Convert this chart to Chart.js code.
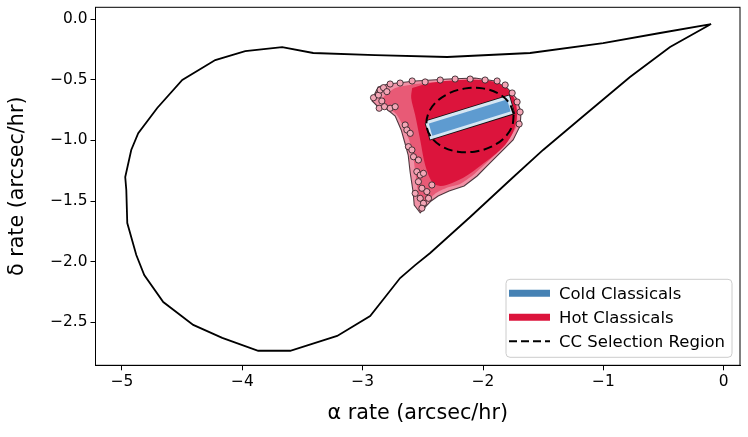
<!DOCTYPE html>
<html>
<head>
<meta charset="utf-8">
<script src="https://cdn.jsdelivr.net/npm/chart.js@4.4.0/dist/chart.umd.min.js"></script>
<style>
  html, body { margin: 0; padding: 0; background: #fff; }
</style>
</head>
<body>
<canvas id="rates" width="748" height="437"></canvas>
<script>
// outline of the rate region (alpha, delta in arcsec/hr)
const curveAlpha = [-0.105, -0.529, -1.002, -1.609, -2.298, -2.896, -3.411, -3.669, -3.976, -4.225,
  -4.499, -4.707, -4.865, -4.923, -4.973, -4.964, -4.956, -4.881, -4.815, -4.657, -4.408, -4.167,
  -3.868, -3.602, -3.420, -3.212, -2.938, -2.813, -2.689, -2.564, -2.439, -2.107, -1.775, -1.501,
  -1.136, -0.779, -0.446, -0.105];
const curveDelta = [-0.039, -0.113, -0.196, -0.278, -0.311, -0.295, -0.278, -0.229, -0.262, -0.336,
  -0.501, -0.732, -0.939, -1.078, -1.301, -1.408, -1.681, -1.945, -2.110, -2.333, -2.522, -2.629,
  -2.735, -2.735, -2.679, -2.613, -2.448, -2.291, -2.135, -2.028, -1.928, -1.631, -1.326, -1.078,
  -0.773, -0.476, -0.229, -0.039];

// hot classicals: outer envelope, mixed zone, dense core, loose edge objects
const hotOuterAlpha = [-2.913, -2.871, -2.788, -2.564, -2.290, -2.066, -1.900, -1.792, -1.725, -1.684,
  -1.692, -1.750, -1.858, -1.966, -2.049, -2.157, -2.282, -2.373, -2.431, -2.481, -2.522, -2.572,
  -2.581, -2.606, -2.622, -2.647, -2.680, -2.730, -2.821, -2.880, -2.921, -2.913];
const hotOuterDelta = [-0.641, -0.559, -0.534, -0.509, -0.493, -0.484, -0.509, -0.575, -0.649, -0.765,
  -0.880, -0.996, -1.103, -1.210, -1.293, -1.375, -1.416, -1.458, -1.499, -1.549, -1.598, -1.532,
  -1.425, -1.260, -1.120, -1.029, -0.913, -0.798, -0.724, -0.715, -0.674, -0.641];
const hotMidAlpha = [-2.813, -2.730, -2.564, -2.290, -2.066, -1.900, -1.792, -1.733, -1.717, -1.792,
  -1.883, -1.991, -2.082, -2.190, -2.306, -2.390, -2.456, -2.506, -2.539, -2.564, -2.581, -2.614,
  -2.655, -2.722, -2.805, -2.855, -2.813];
const hotMidDelta = [-0.625, -0.567, -0.534, -0.509, -0.501, -0.526, -0.592, -0.666, -0.872, -0.996,
  -1.103, -1.202, -1.285, -1.359, -1.392, -1.433, -1.491, -1.532, -1.425, -1.260, -1.120, -0.996,
  -0.897, -0.781, -0.724, -0.682, -0.625];
const hotCoreAlpha = [-2.589, -2.439, -2.190, -1.941, -1.816, -1.742, -1.717, -1.750, -1.816, -1.916,
  -2.024, -2.140, -2.257, -2.356, -2.423, -2.481, -2.522, -2.564, -2.597, -2.589];
const hotCoreDelta = [-0.567, -0.526, -0.501, -0.509, -0.559, -0.649, -0.790, -0.930, -1.037, -1.128,
  -1.210, -1.293, -1.351, -1.375, -1.342, -1.202, -0.996, -0.790, -0.649, -0.567];
const hotEdgeAlpha = [-2.910, -2.869, -2.855, -2.827, -2.799, -2.841, -2.863, -2.819, -2.772, -2.730,
  -2.647, -2.633, -2.605, -2.620, -2.591, -2.578, -2.537, -2.550, -2.522, -2.537, -2.495, -2.508,
  -2.564, -2.522, -2.495, -2.508, -2.453, -2.467, -2.425,
  -2.772, -2.689, -2.589, -2.481, -2.356, -2.232, -2.107, -1.983, -1.883, -1.816, -1.758, -1.717,
  -1.692, -1.700];
const hotEdgeDelta = [-0.647, -0.625, -0.583, -0.564, -0.597, -0.674, -0.734, -0.721, -0.734, -0.721,
  -0.872, -0.913, -0.941, -1.051, -1.078, -1.134, -1.161, -1.257, -1.285, -1.340, -1.271, -1.394,
  -1.436, -1.477, -1.518, -1.559, -1.477, -1.422, -1.367,
  -0.534, -0.526, -0.509, -0.517, -0.501, -0.493, -0.493, -0.501, -0.509, -0.542, -0.608, -0.682,
  -0.765, -0.864];

// cold classicals band
const coldAlpha = [-2.466, -1.792, -1.756, -2.430, -2.466];
const coldDelta = [-0.852, -0.645, -0.768, -0.976, -0.852];

// CC selection region
const ccAlpha = [-1.745, -1.787, -1.877, -2.002, -2.144, -2.279, -2.389, -2.455, -2.469, -2.427,
  -2.337, -2.212, -2.070, -1.935, -1.825, -1.759, -1.745];
const ccDelta = [-0.780, -0.684, -0.610, -0.570, -0.570, -0.609, -0.682, -0.778, -0.882, -0.978,
  -1.052, -1.092, -1.092, -1.053, -0.980, -0.884, -0.780];

const xTicks = [-5, -4, -3, -2, -1, 0];
const yTicks = [0, -0.5, -1, -1.5, -2, -2.5];
const seriesLabels = ['Cold Classicals', 'Hot Classicals', 'CC Selection Region'];

const FONT = 'DejaVu Sans';
const zip = (xs, ys) => xs.map((x, i) => ({x: x, y: ys[i]}));
const signed = (v, d) => (v < -1e-9 ? '\u2212' : '') + Math.abs(v).toFixed(d);

// top/right spines
const frame = {
  id: 'frame',
  afterDraw(chart) {
    const {ctx, chartArea: a} = chart;
    ctx.save();
    ctx.strokeStyle = '#000';
    ctx.lineWidth = 1;
    ctx.strokeRect(a.left, a.top, a.right - a.left, a.bottom - a.top);
    ctx.restore();
  }
};

// matplotlib-like legend in lower right corner
const cornerLegend = {
  id: 'cornerLegend',
  afterDraw(chart) {
    const {ctx, chartArea: a} = chart;
    const w = 226, h = 78;
    const x0 = a.right - 8 - w, y0 = a.bottom - 8 - h;
    ctx.save();
    ctx.beginPath();
    ctx.roundRect(x0, y0, w, h, 4);
    ctx.fillStyle = 'rgba(255,255,255,0.85)';
    ctx.fill();
    ctx.strokeStyle = '#cccccc';
    ctx.lineWidth = 1;
    ctx.stroke();
    const rows = [
      {color: '#4682b4', width: 7, dash: []},
      {color: '#dc143c', width: 7, dash: []},
      {color: '#000', width: 2, dash: [8, 4]}
    ];
    ctx.font = '16.5px "' + FONT + '"';
    ctx.textBaseline = 'middle';
    rows.forEach((r, i) => {
      const y = y0 + 14 + i * 24;
      ctx.beginPath();
      ctx.setLineDash(r.dash);
      ctx.strokeStyle = r.color;
      ctx.lineWidth = r.width;
      ctx.moveTo(x0 + 3, y);
      ctx.lineTo(x0 + 44, y);
      ctx.stroke();
      ctx.setLineDash([]);
      ctx.fillStyle = '#000';
      ctx.fillText(seriesLabels[i], x0 + 53, y + 1);
    });
    ctx.restore();
  }
};

const shape = (data, fillColor, border, width, extra) => Object.assign({
  data: data,
  showLine: true,
  fill: fillColor ? 'shape' : false,
  backgroundColor: fillColor || 'transparent',
  borderColor: border,
  borderWidth: width,
  pointRadius: 0,
  tension: 0
}, extra || {});

// first dataset is drawn on top
const datasets = [
  shape(zip(curveAlpha, curveDelta), null, '#000', 1.8),
  shape(zip(ccAlpha, ccDelta), null, '#000', 2, {tension: 0.35, borderDash: [9, 4.5]}),
  shape(zip(coldAlpha, coldDelta), '#5e9bd0', '#d6e6f3', 3),
  shape(zip(coldAlpha, coldDelta), null, '#111', 4.6),
  {
    data: zip(hotEdgeAlpha, hotEdgeDelta),
    pointRadius: 3.1,
    backgroundColor: '#f3a6b6',
    borderColor: 'rgba(45,30,35,0.85)',
    borderWidth: 1
  },
  shape(zip(hotCoreAlpha, hotCoreDelta), '#dc143c', 'rgba(220,20,60,0)', 0, {tension: 0.3}),
  shape(zip(hotMidAlpha, hotMidDelta), 'rgb(232,90,118)', 'rgba(232,90,118,0)', 0, {tension: 0.2}),
  shape(zip(hotOuterAlpha, hotOuterDelta), 'rgb(240,146,166)', 'rgba(50,30,38,0.85)', 1.1)
];

new Chart(document.getElementById('rates'), {
  type: 'scatter',
  data: {datasets: datasets},
  options: {
    responsive: false,
    animation: false,
    layout: {padding: {left: 0, right: 8, top: 7.3, bottom: 0}},
    plugins: {legend: {display: false}, tooltip: {enabled: false}},
    scales: {
      x: {
        type: 'linear',
        min: -5.22,
        max: 0.135,
        afterBuildTicks: s => { s.ticks = xTicks.map(v => ({value: v})); },
        afterFit: s => { s.height = 71.7; s.paddingLeft = 0; s.paddingRight = 0; },
        ticks: {
          color: '#000',
          padding: 2,
          font: {family: FONT, size: 15.4},
          callback: v => signed(v, 0)
        },
        grid: {display: true, drawOnChartArea: false, drawTicks: true, tickLength: 5, color: '#000'},
        border: {display: true, color: '#000', width: 1},
        title: {
          display: true,
          text: 'α rate (arcsec/hr)',
          color: '#000',
          font: {family: FONT, size: 20.7, lineHeight: 1.2},
          padding: {top: 0, bottom: 11}
        }
      },
      y: {
        type: 'linear',
        min: -2.855,
        max: 0.099,
        afterBuildTicks: s => { s.ticks = yTicks.map(v => ({value: v})); },
        afterFit: s => { s.width = 95.5; s.paddingTop = 0; s.paddingBottom = 0; },
        ticks: {
          color: '#000',
          padding: 3,
          font: {family: FONT, size: 15.4},
          callback: v => signed(v, 1)
        },
        grid: {display: true, drawOnChartArea: false, drawTicks: true, tickLength: 5, color: '#000'},
        border: {display: true, color: '#000', width: 1},
        title: {
          display: true,
          text: 'δ rate (arcsec/hr)',
          color: '#000',
          font: {family: FONT, size: 20.7, lineHeight: 1.2},
          padding: {top: 5, bottom: 0}
        }
      }
    }
  },
  plugins: [frame, cornerLegend]
});
</script>
</body>
</html>
